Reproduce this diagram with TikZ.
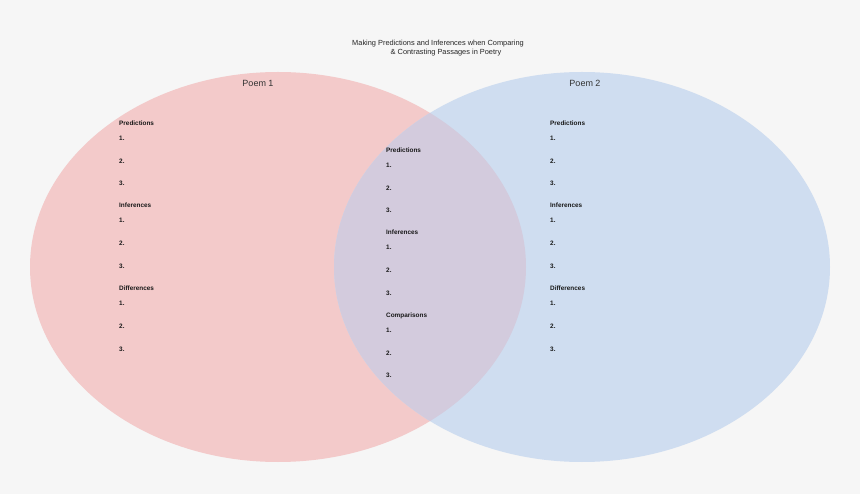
\documentclass[tikz,border=0pt]{standalone}
\usepackage{fontspec}
\setsansfont{Liberation Sans}
\usetikzlibrary{positioning,calc,shapes.geometric}

\definecolor{bgcol}{HTML}{F6F6F6}
\definecolor{pinkfill}{HTML}{F3CACA}
\definecolor{bluefill}{HTML}{CFDDF0}
\definecolor{mixfill}{HTML}{D3CBDD}

\begin{document}
\begin{tikzpicture}[
    x=1pt, y=-1pt,
    font=\sffamily,
    poem/.style={ellipse, draw=none, minimum width=496pt, minimum height=390pt,
                 inner sep=0pt},
    head/.style={font=\sffamily\bfseries\fontsize{6.4}{7}\selectfont, anchor=base west,
                 inner sep=0pt, text=black!90},
    item/.style={font=\sffamily\bfseries\fontsize{6.4}{7}\selectfont, anchor=base west,
                 inner sep=0pt, text=black!90},
    title/.style={font=\sffamily\fontsize{9}{10}\selectfont, text=black!80},
]

% === Background and page size ===
\fill[bgcol] (0,0) rectangle (860,494);
\useasboundingbox (0,0) rectangle (860,494);

% === Two circles ===
\node[poem, fill=pinkfill] (poemA) at (278,267) {};
\node[poem, fill=bluefill] (poemB) at (582,267) {};

% overlap
\begin{scope}
  \clip (278,267) ellipse [x radius=248, y radius=195];
  \fill[mixfill] (582,267) ellipse [x radius=248, y radius=195];
\end{scope}

% === Heading ===
\node[font=\sffamily\fontsize{7.4}{9}\selectfont, align=center, text=black!85] (heading)
     at (438,48.5) {Making Predictions and Inferences when Comparing\\
     \hspace*{16pt}\& Contrasting Passages in Poetry};

\node[title] (titleA) at (258,83) {Poem 1};
\node[title] (titleB) at (585,83) {Poem 2};

% === Left column: Poem 1 ===
\node[head] (lpred) at (119,125.5) {Predictions};
\node[head] (linf)  at (119,208)   {Inferences};
\node[head] (ldiff) at (119,291)   {Differences};
\foreach \grp in {lpred,linf,ldiff}
  \foreach \n in {1,2,3}
    \node[item] (\grp\n) at ($(\grp.base west)+(0,{15+22.7*(\n-1)})$) {\n.};

% === Middle column: shared ===
\node[head] (mpred) at (386,152.5) {Predictions};
\node[head] (minf)  at (386,235)   {Inferences};
\node[head] (mcomp) at (386,317.5) {Comparisons};
\foreach \grp in {mpred,minf,mcomp}
  \foreach \n in {1,2,3}
    \node[item] (\grp\n) at ($(\grp.base west)+(0,{15+22.7*(\n-1)})$) {\n.};

% === Right column: Poem 2 ===
\node[head] (rpred) at (550,125.5) {Predictions};
\node[head] (rinf)  at (550,208)   {Inferences};
\node[head] (rdiff) at (550,291)   {Differences};
\foreach \grp in {rpred,rinf,rdiff}
  \foreach \n in {1,2,3}
    \node[item] (\grp\n) at ($(\grp.base west)+(0,{15+22.7*(\n-1)})$) {\n.};

\end{tikzpicture}
\end{document}
